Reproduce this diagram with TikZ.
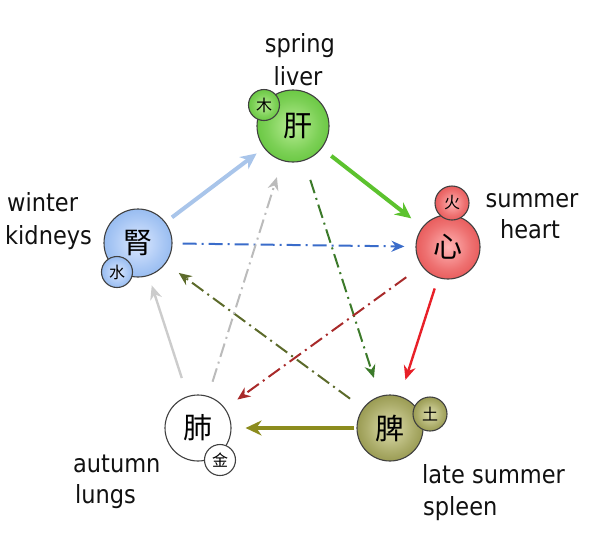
\documentclass[tikz,border=0pt]{standalone}
\usepackage{fontspec}
\setmainfont{DejaVu Sans Condensed}
\newfontfamily\cjk{Noto Sans CJK SC}
\usetikzlibrary{arrows.meta}
\definecolor{livIn}{HTML}{B8EC94}
\definecolor{livOut}{HTML}{4CBA24}
\definecolor{heaIn}{HTML}{FFB4B4}
\definecolor{heaOut}{HTML}{E03A3A}
\definecolor{splIn}{HTML}{DEDEAE}
\definecolor{splOut}{HTML}{7A7C28}
\definecolor{lunIn}{HTML}{FFFFFF}
\definecolor{lunOut}{HTML}{D0D0D0}
\definecolor{kidIn}{HTML}{DCE8FF}
\definecolor{kidOut}{HTML}{78A8EA}
\definecolor{aBlue}{HTML}{A9C5EA}
\definecolor{aGreen}{HTML}{5CC22E}
\definecolor{aRed}{HTML}{E82028}
\definecolor{aOlive}{HTML}{8C8C1E}
\definecolor{aGray}{HTML}{CCCCCC}
\definecolor{dBlue}{HTML}{3A6CCA}
\definecolor{dGreen}{HTML}{3C7A2A}
\definecolor{dRed}{HTML}{A82A2A}
\definecolor{dOlive}{HTML}{5C6A2A}
\definecolor{dGray}{HTML}{BBBBBB}
\definecolor{txt}{HTML}{111111}
\pgfdeclareradialshading{livSh}{\pgfpoint{0bp}{0bp}}{color(0bp)=(livIn); color(18bp)=(livIn!45!livOut); color(38bp)=(livOut); color(50bp)=(livOut!80!black); color(60bp)=(livOut!80!black)}
\pgfdeclareradialshading{heaSh}{\pgfpoint{0bp}{0bp}}{color(0bp)=(heaIn); color(18bp)=(heaIn!45!heaOut); color(38bp)=(heaOut); color(50bp)=(heaOut!80!black); color(60bp)=(heaOut!80!black)}
\pgfdeclareradialshading{splSh}{\pgfpoint{0bp}{0bp}}{color(0bp)=(splIn); color(18bp)=(splIn!50!splOut); color(38bp)=(splOut); color(50bp)=(splOut!80!black); color(60bp)=(splOut!80!black)}
\pgfdeclareradialshading{lunSh}{\pgfpoint{0bp}{0bp}}{color(0bp)=(lunIn); color(25bp)=(lunIn); color(42bp)=(lunIn!40!lunOut); color(50bp)=(lunOut!85!black); color(60bp)=(lunOut!85!black)}
\pgfdeclareradialshading{kidSh}{\pgfpoint{0bp}{0bp}}{color(0bp)=(kidIn); color(18bp)=(kidIn!50!kidOut); color(38bp)=(kidOut); color(50bp)=(kidOut!80!black); color(60bp)=(kidOut!80!black)}
\begin{document}
\begin{tikzpicture}[x=1pt,y=-1pt,
  organ/.style={circle,draw=black!75,line width=1.1pt,inner sep=0pt,shade,
    font=\cjk\fontsize{29}{29}\selectfont},
  elem/.style={circle,draw=black!75,line width=1.1pt,inner sep=0pt,shade,
    minimum size=31pt,font=\cjk\fontsize{16}{16}\selectfont},
  lblw/.style={anchor=base west,inner sep=0pt,text=txt,font=\fontsize{25}{30}\selectfont},
  lblc/.style={anchor=base,inner sep=0pt,text=txt,font=\fontsize{25}{30}\selectfont},
  flow/.style={-{Stealth[length=16pt,width=15pt]},line width=4pt},
  thin/.style={-{Stealth[length=14pt,width=12pt]},line width=2.4pt},
  ctrl/.style={-{Stealth[length=13pt,width=11pt]},line width=2pt,
    dash pattern=on 14pt off 5pt on 2pt off 5pt},
]
\useasboundingbox (0,0) rectangle (600,542);

% organs
\node[organ,minimum size=72pt,shading=livSh] (liv) at (293,126) {\hspace*{10pt}\raisebox{-12pt}{肝}};
\node[elem,shading=livSh] (livE) at (264,105) {木};

\node[organ,minimum size=64pt,shading=heaSh] (hea) at (448,247) {心};
\node[elem,minimum size=34pt,shading=heaSh] (heaE) at (452,203) {火};

\node[organ,minimum size=66pt,shading=splSh] (spl) at (390,428) {脾};
\node[elem,minimum size=34pt,shading=splSh] (splE) at (430,414) {土};

\node[organ,minimum size=66pt,shading=lunSh] (lun) at (198,428) {肺};
\node[elem,shading=lunSh] (lunE) at (220,460) {金};

\node[organ,minimum size=68pt,shading=kidSh] (kid) at (138,243) {腎};
\node[elem,shading=kidSh] (kidE) at (117,272) {水};

% generating cycle
\draw[flow,aBlue,shorten <=8pt,shorten >=9pt] (kid) -- (liv);
\draw[flow,aGreen,shorten <=12pt,shorten >=14pt] (liv) -- (hea);
\draw[thin,aRed,shorten <=11pt,shorten >=17pt] (hea) -- (spl);
\draw[flow,aOlive,line width=3.2pt,shorten <=2pt,shorten >=14pt] (spl) -- (lun);
\draw[thin,aGray,shorten <=19pt,shorten >=10pt] (lun) -- (kid);

% controlling cycle
\draw[ctrl,dBlue,shorten <=10pt,shorten >=11pt] (kid) -- (hea);
\draw[ctrl,dGreen,shorten <=20pt,shorten >=19pt] (liv) -- (spl);
\draw[ctrl,dRed,shorten <=19pt,shorten >=15pt] (hea) -- (lun);
\draw[ctrl,dOlive,shorten <=16pt,shorten >=16pt] (spl) -- (kid);
\draw[ctrl,dGray,shorten <=15pt,shorten >=17pt] (lun) -- (liv);

% labels
\node[lblc] (l1a) at (300,52) {spring};
\node[lblc] (l1b) at (298,85) {liver};
\node[lblc] (l2a) at (532,207) {summer};
\node[lblc] (l2b) at (530,238) {heart};
\node[lblw] (l3a) at (422,483) {late summer};
\node[lblw] (l3b) at (423,515) {spleen};
\node[lblw] (l4a) at (73,472) {autumn};
\node[lblw] (l4b) at (75,503) {lungs};
\node[lblw] (l5a) at (7,211) {winter};
\node[lblw] (l5b) at (5,244) {kidneys};
\end{tikzpicture}
\end{document}
